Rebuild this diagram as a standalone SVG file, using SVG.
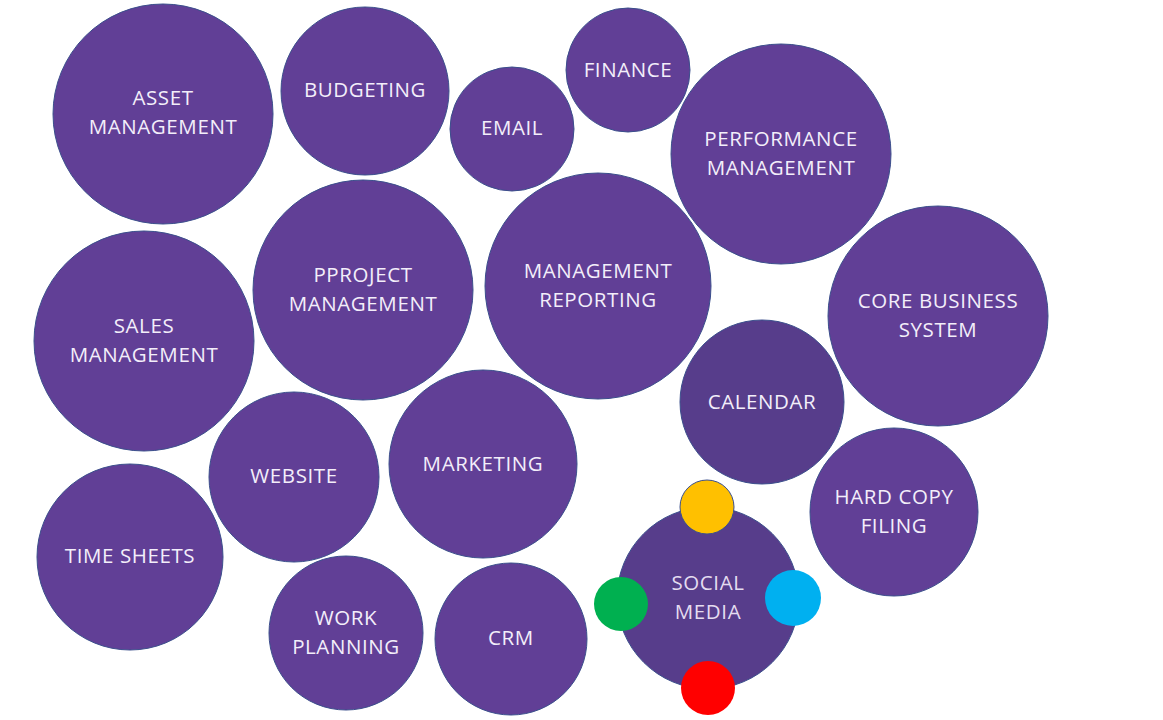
<svg xmlns="http://www.w3.org/2000/svg" width="1163" height="720" viewBox="0 0 1163 720">
<style>
.c{fill:#613f96;stroke:#3b4f8c;stroke-width:1}
.d{fill:#573d8b;stroke:#3b4f8c;stroke-width:1}
.t{font-family:"Open Sans","Noto Sans",sans-serif;font-size:20.5px;fill:#f3eefa;text-anchor:middle;letter-spacing:0.6px}
.s{stroke:#3b4f8c;stroke-width:1}
</style>
<rect width="1163" height="720" fill="#ffffff"/>
<g id="connectors"></g>
<g id="asset-management"><circle class="c" cx="163" cy="114" r="110"/><text class="t" x="163" y="105">ASSET</text><text class="t" x="163" y="134">MANAGEMENT</text></g>
<g id="budgeting"><circle class="c" cx="365" cy="91" r="84"/><text class="t" x="365" y="97">BUDGETING</text></g>
<g id="email"><circle class="c" cx="512" cy="129" r="62"/><text class="t" x="512" y="135">EMAIL</text></g>
<g id="finance"><circle class="c" cx="628" cy="70" r="62"/><text class="t" x="628" y="77">FINANCE</text></g>
<g id="performance-management"><circle class="c" cx="781" cy="154" r="110"/><text class="t" x="781" y="146">PERFORMANCE</text><text class="t" x="781" y="175">MANAGEMENT</text></g>
<g id="sales-management"><circle class="c" cx="144" cy="341" r="110"/><text class="t" x="144" y="333">SALES</text><text class="t" x="144" y="362">MANAGEMENT</text></g>
<g id="pproject-management"><circle class="c" cx="363" cy="290" r="110"/><text class="t" x="363" y="282">PPROJECT</text><text class="t" x="363" y="311">MANAGEMENT</text></g>
<g id="management-reporting"><circle class="c" cx="598" cy="286" r="113"/><text class="t" x="598" y="278">MANAGEMENT</text><text class="t" x="598" y="307">REPORTING</text></g>
<g id="core-business-system"><circle class="c" cx="938" cy="316" r="110"/><text class="t" x="938" y="308">CORE BUSINESS</text><text class="t" x="938" y="337">SYSTEM</text></g>
<g id="calendar"><circle class="d" cx="762" cy="402" r="82"/><text class="t" x="762" y="409">CALENDAR</text></g>
<g id="website"><circle class="c" cx="294" cy="477" r="85"/><text class="t" x="294" y="483">WEBSITE</text></g>
<g id="marketing"><circle class="c" cx="483" cy="464" r="94"/><text class="t" x="483" y="471">MARKETING</text></g>
<g id="hard-copy-filing"><circle class="c" cx="894" cy="512" r="84"/><text class="t" x="894" y="504">HARD COPY</text><text class="t" x="894" y="533">FILING</text></g>
<g id="time-sheets"><circle class="c" cx="130" cy="557" r="93"/><text class="t" x="130" y="563">TIME SHEETS</text></g>
<g id="work-planning"><circle class="c" cx="346" cy="633" r="77"/><text class="t" x="346" y="625">WORK</text><text class="t" x="346" y="654">PLANNING</text></g>
<g id="crm"><circle class="c" cx="511" cy="639" r="76"/><text class="t" x="511" y="645">CRM</text></g>
<g id="social-media"><circle class="d" cx="708" cy="598" r="91"/><text class="t" x="708" y="590" style="fill:#e4dcf0">SOCIAL</text><text class="t" x="708" y="619" style="fill:#e4dcf0">MEDIA</text></g>
<g id="dot-yellow"><circle class="s" cx="707" cy="507" r="27" fill="#ffc000"/></g>
<g id="dot-green"><circle cx="621" cy="604" r="27" fill="#00b050"/></g>
<g id="dot-blue"><circle cx="793" cy="598" r="28" fill="#00b0f0"/></g>
<g id="dot-red"><circle cx="708" cy="688" r="27" fill="#ff0000"/></g>
</svg>
